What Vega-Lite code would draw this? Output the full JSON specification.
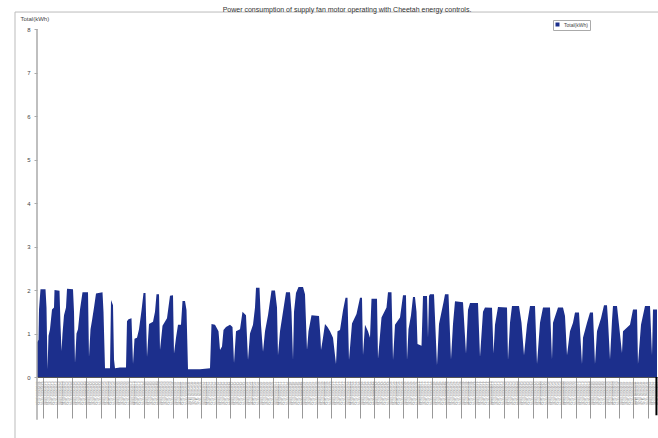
{
  "$schema": "https://vega.github.io/schema/vega-lite/v6.json",
  "width": 620,
  "height": 348,
  "autosize": "none",
  "padding": {"left": 37, "top": 29, "right": 1, "bottom": 61},
  "background": "white",
  "config": {"view": {"stroke": null}, "font": "Liberation Sans"},
  "title": {"text": "Power consumption of supply fan motor operating with Cheetah  energy controls.", "fontSize": 7, "fontWeight": "normal", "color": "#333", "offset": -1, "anchor": "middle"},
  "layer": [
    {
      "data": {"values": [
        {"d": -0.417, "v": 0.8}, {"d": -0.313, "v": 0.85}, {"d": -0.278, "v": 1.55}, {"d": -0.174, "v": 2.02}, {"d": 0.174, "v": 2.02}, {"d": 0.243, "v": 1.6}, {"d": 0.313, "v": 0.18},
        {"d": 0.382, "v": 0.95}, {"d": 0.486, "v": 1.1}, {"d": 0.625, "v": 1.55}, {"d": 0.764, "v": 1.6}, {"d": 0.799, "v": 2.0}, {"d": 1.146, "v": 1.98}, {"d": 1.215, "v": 1.2}, {"d": 1.285, "v": 0.6},
        {"d": 1.354, "v": 1.0}, {"d": 1.458, "v": 1.42}, {"d": 1.597, "v": 1.6}, {"d": 1.667, "v": 2.03}, {"d": 2.083, "v": 2.02}, {"d": 2.153, "v": 1.5}, {"d": 2.222, "v": 0.32},
        {"d": 2.326, "v": 1.0}, {"d": 2.431, "v": 1.1}, {"d": 2.569, "v": 1.55}, {"d": 2.743, "v": 1.95}, {"d": 3.125, "v": 1.95}, {"d": 3.194, "v": 0.46},
        {"d": 3.299, "v": 1.1}, {"d": 3.403, "v": 1.3}, {"d": 3.542, "v": 1.6}, {"d": 3.681, "v": 1.92}, {"d": 4.132, "v": 1.95}, {"d": 4.201, "v": 1.5}, {"d": 4.306, "v": 0.2}, {"d": 4.653, "v": 0.2},
        {"d": 4.722, "v": 1.77}, {"d": 4.861, "v": 1.65}, {"d": 4.931, "v": 0.4}, {"d": 5.0, "v": 0.2}, {"d": 5.347, "v": 0.22}, {"d": 5.764, "v": 0.22},
        {"d": 5.833, "v": 1.28}, {"d": 5.938, "v": 1.33}, {"d": 6.146, "v": 1.35}, {"d": 6.25, "v": 0.3}, {"d": 6.354, "v": 0.88}, {"d": 6.528, "v": 0.9}, {"d": 6.667, "v": 1.1}, {"d": 6.84, "v": 1.53}, {"d": 6.979, "v": 1.93}, {"d": 7.118, "v": 1.93}, {"d": 7.222, "v": 0.46},
        {"d": 7.361, "v": 1.22}, {"d": 7.639, "v": 1.27}, {"d": 7.778, "v": 1.5}, {"d": 7.882, "v": 1.9}, {"d": 8.056, "v": 1.9}, {"d": 8.125, "v": 0.62},
        {"d": 8.299, "v": 1.18}, {"d": 8.611, "v": 1.35}, {"d": 8.819, "v": 1.87}, {"d": 9.028, "v": 1.88}, {"d": 9.097, "v": 0.54},
        {"d": 9.236, "v": 0.9}, {"d": 9.375, "v": 1.2}, {"d": 9.583, "v": 1.2}, {"d": 9.688, "v": 1.75}, {"d": 9.861, "v": 1.75}, {"d": 9.965, "v": 1.54}, {"d": 10.069, "v": 0.18}, {"d": 10.903, "v": 0.18}, {"d": 11.597, "v": 0.2},
        {"d": 11.701, "v": 1.22}, {"d": 11.944, "v": 1.2}, {"d": 12.188, "v": 1.05}, {"d": 12.292, "v": 0.62}, {"d": 12.431, "v": 0.7}, {"d": 12.535, "v": 1.08}, {"d": 12.708, "v": 1.15}, {"d": 12.986, "v": 1.2}, {"d": 13.16, "v": 1.15}, {"d": 13.264, "v": 0.32},
        {"d": 13.403, "v": 1.05}, {"d": 13.681, "v": 1.1}, {"d": 13.854, "v": 1.5}, {"d": 14.097, "v": 1.42}, {"d": 14.236, "v": 0.39},
        {"d": 14.375, "v": 1.0}, {"d": 14.583, "v": 1.2}, {"d": 14.722, "v": 1.6}, {"d": 14.792, "v": 2.05}, {"d": 15.035, "v": 2.05}, {"d": 15.139, "v": 1.2}, {"d": 15.278, "v": 0.58},
        {"d": 15.417, "v": 1.05}, {"d": 15.625, "v": 1.42}, {"d": 15.868, "v": 1.99}, {"d": 16.111, "v": 1.99}, {"d": 16.25, "v": 1.6}, {"d": 16.319, "v": 0.5},
        {"d": 16.458, "v": 1.05}, {"d": 16.667, "v": 1.5}, {"d": 16.875, "v": 1.95}, {"d": 17.153, "v": 1.95}, {"d": 17.257, "v": 1.5}, {"d": 17.361, "v": 0.39},
        {"d": 17.431, "v": 1.5}, {"d": 17.569, "v": 1.93}, {"d": 17.743, "v": 2.07}, {"d": 18.056, "v": 2.07}, {"d": 18.194, "v": 1.9}, {"d": 18.333, "v": 0.62},
        {"d": 18.438, "v": 1.05}, {"d": 18.646, "v": 1.42}, {"d": 19.167, "v": 1.4}, {"d": 19.271, "v": 0.9}, {"d": 19.306, "v": 0.62}, {"d": 19.444, "v": 0.9}, {"d": 19.583, "v": 1.22}, {"d": 19.757, "v": 1.15}, {"d": 19.931, "v": 1.05}, {"d": 20.139, "v": 0.9}, {"d": 20.347, "v": 0.3},
        {"d": 20.451, "v": 1.05}, {"d": 20.625, "v": 1.08}, {"d": 20.833, "v": 1.53}, {"d": 21.007, "v": 1.82}, {"d": 21.146, "v": 1.82}, {"d": 21.25, "v": 0.39},
        {"d": 21.458, "v": 1.23}, {"d": 21.771, "v": 1.45}, {"d": 22.014, "v": 1.82}, {"d": 22.153, "v": 1.82}, {"d": 22.222, "v": 0.5},
        {"d": 22.361, "v": 1.2}, {"d": 22.569, "v": 1.05}, {"d": 22.708, "v": 0.9}, {"d": 22.813, "v": 1.8}, {"d": 23.194, "v": 1.8}, {"d": 23.264, "v": 0.42},
        {"d": 23.507, "v": 1.37}, {"d": 23.854, "v": 1.6}, {"d": 23.958, "v": 1.95}, {"d": 24.201, "v": 1.95}, {"d": 24.306, "v": 0.39},
        {"d": 24.444, "v": 1.2}, {"d": 24.792, "v": 1.37}, {"d": 25.0, "v": 1.88}, {"d": 25.208, "v": 1.88}, {"d": 25.278, "v": 0.39},
        {"d": 25.382, "v": 1.1}, {"d": 25.556, "v": 1.42}, {"d": 25.694, "v": 1.84}, {"d": 25.833, "v": 1.84}, {"d": 25.938, "v": 1.5}, {"d": 26.007, "v": 0.76}, {"d": 26.285, "v": 0.72}, {"d": 26.389, "v": 1.86}, {"d": 26.667, "v": 1.86}, {"d": 26.736, "v": 0.9}, {"d": 26.806, "v": 1.86}, {"d": 26.875, "v": 1.9}, {"d": 27.153, "v": 1.9}, {"d": 27.361, "v": 0.27},
        {"d": 27.5, "v": 1.22}, {"d": 27.813, "v": 1.72}, {"d": 27.917, "v": 1.9}, {"d": 28.16, "v": 1.9}, {"d": 28.333, "v": 0.4},
        {"d": 28.472, "v": 1.22}, {"d": 28.611, "v": 1.74}, {"d": 29.167, "v": 1.72}, {"d": 29.375, "v": 0.54},
        {"d": 29.514, "v": 1.54}, {"d": 29.653, "v": 1.7}, {"d": 30.208, "v": 1.7}, {"d": 30.347, "v": 0.46},
        {"d": 30.556, "v": 1.5}, {"d": 30.694, "v": 1.6}, {"d": 31.181, "v": 1.59}, {"d": 31.285, "v": 0.54},
        {"d": 31.389, "v": 1.2}, {"d": 31.597, "v": 1.61}, {"d": 32.222, "v": 1.6}, {"d": 32.292, "v": 0.39},
        {"d": 32.431, "v": 1.25}, {"d": 32.569, "v": 1.63}, {"d": 33.056, "v": 1.63}, {"d": 33.229, "v": 1.25}, {"d": 33.403, "v": 0.5},
        {"d": 33.611, "v": 1.2}, {"d": 33.819, "v": 1.63}, {"d": 34.167, "v": 1.63}, {"d": 34.306, "v": 0.3},
        {"d": 34.514, "v": 1.25}, {"d": 34.722, "v": 1.6}, {"d": 35.208, "v": 1.6}, {"d": 35.347, "v": 0.4},
        {"d": 35.417, "v": 1.25}, {"d": 35.764, "v": 1.6}, {"d": 36.111, "v": 1.6}, {"d": 36.25, "v": 1.4}, {"d": 36.389, "v": 0.5},
        {"d": 36.597, "v": 1.05}, {"d": 36.806, "v": 1.25}, {"d": 36.944, "v": 1.48}, {"d": 37.222, "v": 1.48}, {"d": 37.431, "v": 0.3},
        {"d": 37.5, "v": 0.9}, {"d": 37.778, "v": 1.25}, {"d": 37.986, "v": 1.48}, {"d": 38.194, "v": 1.48}, {"d": 38.333, "v": 0.3},
        {"d": 38.472, "v": 1.05}, {"d": 38.75, "v": 1.35}, {"d": 38.958, "v": 1.65}, {"d": 39.167, "v": 1.65}, {"d": 39.236, "v": 1.3}, {"d": 39.375, "v": 0.4},
        {"d": 39.514, "v": 1.3}, {"d": 39.583, "v": 1.63}, {"d": 39.861, "v": 1.63}, {"d": 40.0, "v": 1.2}, {"d": 40.208, "v": 0.55},
        {"d": 40.278, "v": 1.05}, {"d": 40.764, "v": 1.2}, {"d": 40.972, "v": 1.55}, {"d": 41.25, "v": 1.55}, {"d": 41.319, "v": 0.3},
        {"d": 41.528, "v": 1.2}, {"d": 41.806, "v": 1.63}, {"d": 42.153, "v": 1.63}, {"d": 42.292, "v": 0.5}, {"d": 42.361, "v": 1.55}, {"d": 42.639, "v": 1.55}
      ]},
      "mark": {"type": "area", "interpolate": "linear"},
      "encoding": {
        "x": {"field": "d", "type": "quantitative",
          "scale": {"domain": [-0.417, 42.639], "nice": false, "zero": false},
          "axis": {"title": null, "grid": false, "tickCount": 215,
            "tickColor": {"condition": {"test": "abs(datum.value - round(datum.value)) < 0.01", "value": "#999"}, "value": "transparent"},
            "tickSize": 41, "tickWidth": 1,
            "labelAngle": 90, "labelFontSize": 3, "labelColor": "#777", "labelPadding": -37,
            "labelAlign": "left", "labelBaseline": "middle", "labelOverlap": false, "labelFlush": false,
            "labelExpr": "timeFormat(time(datetime(2009, 4, 1)) + datum.value * 86400000, '%d/%m/%Y %H:%M')",
            "domainColor": "#555", "domainWidth": 1}},
        "y": {"field": "v", "type": "quantitative",
          "scale": {"domain": [0, 8], "nice": false},
          "axis": {"values": [0, 1, 2, 3, 4, 5, 6, 7, 8], "grid": false, "domain": false,
            "tickSize": 3, "tickColor": "#aaa", "labelFontSize": 6, "labelColor": "#444", "labelPadding": 4,
            "title": "Total(kWh)", "titleAngle": 0, "titleX": -17, "titleY": -11, "titleAlign": "left",
            "titleBaseline": "middle", "titleFontSize": 6, "titleFontWeight": "normal", "titleColor": "#444"}},
        "color": {"datum": "Total(kWh)", "type": "nominal",
          "scale": {"range": ["#1c2f8c"]},
          "legend": {"title": null, "orient": "none", "legendX": 516, "legendY": -9,
            "strokeColor": "#aaa", "padding": 2, "symbolType": "square", "symbolSize": 16,
            "labelFontSize": 5, "labelColor": "#444", "symbolStrokeWidth": 0}}
      }
    },
    {
      "data": {"values": [{}]},
      "mark": {"type": "rule", "color": "#aaa", "strokeWidth": 1.5},
      "encoding": {
        "x": {"datum": -0.417, "type": "quantitative", "scale": {"domain": [-0.417, 42.639], "nice": false, "zero": false}},
        "y": {"datum": 8, "type": "quantitative", "scale": {"domain": [0, 8], "nice": false}},
        "y2": {"datum": -0.98}
      }
    },
    {
      "data": {"values": [{}]},
      "mark": {"type": "rule", "color": "#000", "strokeWidth": 2},
      "encoding": {
        "x": {"datum": 42.6, "type": "quantitative", "scale": {"domain": [-0.417, 42.639], "nice": false, "zero": false}},
        "y": {"datum": 0, "type": "quantitative", "scale": {"domain": [0, 8], "nice": false}},
        "y2": {"datum": -0.88}
      }
    },
    {
      "data": {"values": [{}]},
      "mark": {"type": "rule", "color": "#bbb", "strokeWidth": 1},
      "encoding": {
        "x": {"datum": -1.944, "type": "quantitative", "scale": {"domain": [-0.417, 42.639], "nice": false, "zero": false}},
        "x2": {"datum": 43.0},
        "y": {"datum": 8.39, "type": "quantitative", "scale": {"domain": [0, 8], "nice": false}}
      }
    },
    {
      "data": {"values": [{}]},
      "mark": {"type": "rule", "color": "#bbb", "strokeWidth": 1},
      "encoding": {
        "x": {"datum": -1.944, "type": "quantitative", "scale": {"domain": [-0.417, 42.639], "nice": false, "zero": false}},
        "y": {"datum": 8.39, "type": "quantitative", "scale": {"domain": [0, 8], "nice": false}},
        "y2": {"datum": -1.5}
      }
    }
  ]
}
